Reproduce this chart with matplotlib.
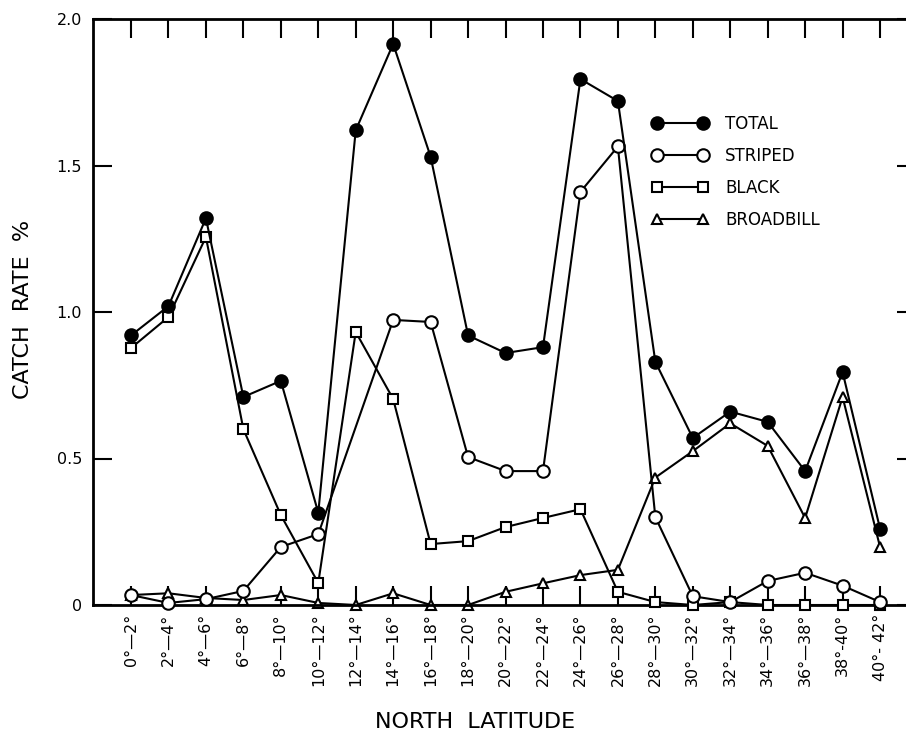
import matplotlib
matplotlib.use("Agg")
import matplotlib.pyplot as plt

categories = ["0°—2°", "2°—4°", "4°—6°", "6°—8°", "8°—10°", "10°—12°", "12°—14°",
              "14°—16°", "16°—18°", "18°—20°", "20°—22°", "22°—24°", "24°—26°",
              "26°—28°", "28°—30°", "30°—32°", "32°—34°", "34°—36°", "36°—38°",
              "38°-40°", "40°- 42°"]

total = [0.92, 1.02, 1.32, 0.71, 0.765, 0.315, 1.62, 1.915, 1.53, 0.92, 0.86, 0.88,
         1.795, 1.72, 0.83, 0.57, 0.66, 0.625, 0.457, 0.795, 0.26]
striped = [0.034, 0.007, 0.02, 0.048, 0.198, 0.242, None, 0.973, 0.966, 0.505, 0.457,
           0.457, 1.41, 1.565, 0.30, 0.03, 0.01, 0.082, 0.11, 0.066, 0.01]
black = [0.877, 0.983, 1.256, 0.60, 0.307, 0.075, 0.932, 0.703, 0.208, 0.218, 0.266,
         0.297, 0.327, 0.045, 0.01, 0.0, 0.01, 0.0, 0.0, 0.0, 0.0]
broadbill = [0.034, 0.04, 0.024, 0.017, 0.034, 0.007, 0.0, 0.04, 0.0, 0.0, 0.045,
             0.074, 0.102, 0.12, 0.435, 0.525, 0.62, 0.543, 0.297, 0.71, 0.198]

series_names = ["TOTAL", "STRIPED", "BLACK", "BROADBILL"]
yticks = [0, 0.5, 1.0, 1.5, 2.0]
ytick_labels = ["0", "0.5", "1.0", "1.5", "2.0"]

fig = plt.figure(figsize=(9.06, 7.36), dpi=100)
ax = fig.add_axes([93 / 906, 131 / 736, (916 - 93) / 906, (605 - 19) / 736])

x = list(range(len(categories)))

def pts(vals):
    xs = [i for i, v in zip(x, vals) if v is not None]
    ys = [v for v in vals if v is not None]
    return xs, ys

styles = [
    dict(marker="o", markersize=9, markerfacecolor="black"),
    dict(marker="o", markersize=9, markerfacecolor="white"),
    dict(marker="s", markersize=7, markerfacecolor="white"),
    dict(marker="^", markersize=7.5, markerfacecolor="white"),
]
handles = []
for vals, st, name, z in zip([total, striped, black, broadbill], styles, series_names, [5, 4, 3, 2]):
    xs, ys = pts(vals)
    ln, = ax.plot(xs, ys, color="black", linewidth=1.5, markeredgecolor="black",
                  markeredgewidth=1.5, zorder=z, label=name, clip_on=False, **st)
    handles.append(ln)

ax.set_xlim(-1.015, 20.96)
ax.set_ylim(0, 2.0)

ax.set_xticks(x)
ax.set_xticklabels(categories, rotation=90, fontsize=11.5)
ax.set_yticks(yticks)
ax.set_yticklabels(ytick_labels, fontsize=11.5)

ax.tick_params(axis="both", direction="in", length=14, width=1.5, color="black")
ax.tick_params(axis="x", top=True, bottom=True, pad=6)
ax.tick_params(axis="y", left=True, right=True, pad=8)

for s in ax.spines.values():
    s.set_linewidth(2)
    s.set_color("black")

ax.set_ylabel("CATCH  RATE  %", fontsize=16)
ax.yaxis.set_label_coords(-0.073, 0.505)
ax.set_xlabel("NORTH  LATITUDE", fontsize=16)
ax.xaxis.set_label_coords(0.464, -0.182)

leg = ax.legend(handles=handles, labels=series_names, loc="upper left",
                bbox_to_anchor=((645 - 93) / 823, (605 - 108) / 586),
                frameon=False, numpoints=2, handlelength=3.4, handletextpad=1.0,
                labelspacing=0.85, fontsize=12, borderaxespad=0)

fig.savefig("out.png", dpi=100, facecolor="white")
